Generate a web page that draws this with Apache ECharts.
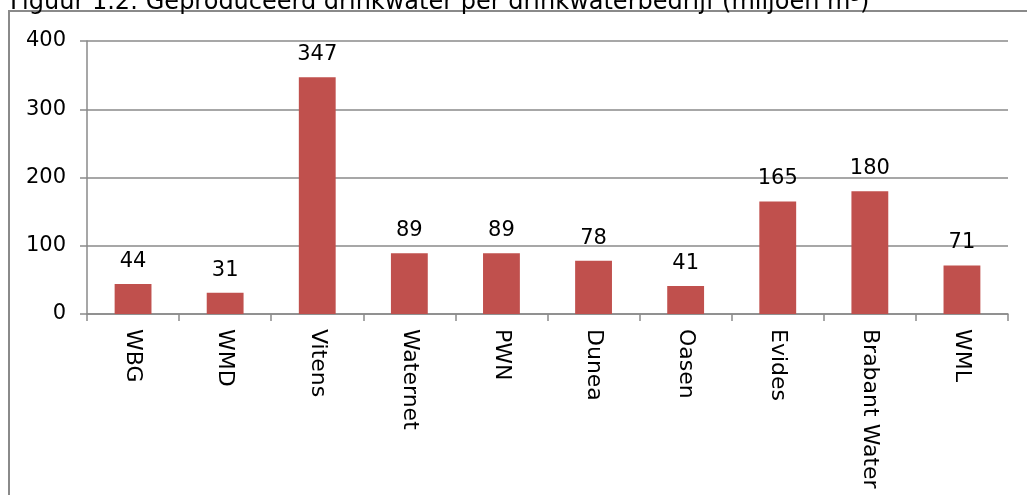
<!DOCTYPE html>
<html>
<head>
<meta charset="utf-8">
<script src="https://cdn.jsdelivr.net/npm/echarts@6/dist/echarts.min.js"></script>
<style>html,body{margin:0;padding:0;background:#fff;}#c{width:1027px;height:495px;}</style>
</head>
<body>
<div id="c"></div>
<script>
const titleText = 'Figuur 1.2: Geproduceerd drinkwater per drinkwaterbedrijf (miljoen m³)';
const categories = ['WBG', 'WMD', 'Vitens', 'Waternet', 'PWN', 'Dunea', 'Oasen', 'Evides', 'Brabant Water', 'WML'];
const values = [44, 31, 347, 89, 89, 78, 41, 165, 180, 71];
const yTicks = [0, 100, 200, 300, 400];

const chart = echarts.init(document.getElementById('c'), null, {renderer: 'canvas'});
const font = 'DejaVu Sans, Verdana, sans-serif';
chart.setOption({
  animation: false,
  backgroundColor: '#fff',
  graphic: [
    {type: 'rect', shape: {x: 9, y: 11, width: 1200, height: 700}, style: {fill: 'none', stroke: '#8a8a8a', lineWidth: 2}, z: -1},
    {type: 'text', x: 10, y: -9, style: {text: titleText, font: '24px ' + font, fill: '#000', verticalAlign: 'top'}}
  ],
  grid: {left: 87, right: 19, top: 41, bottom: 181},
  xAxis: {
    type: 'category',
    data: categories,
    axisLine: {lineStyle: {color: '#8a8a8a', width: 1.5}},
    axisTick: {show: true, length: 7, lineStyle: {color: '#8a8a8a', width: 1.5}},
    axisLabel: {rotate: -90, margin: 15, color: '#000', fontSize: 22, fontFamily: font, interval: 0}
  },
  yAxis: {
    type: 'value',
    min: yTicks[0],
    max: yTicks[yTicks.length - 1],
    interval: 100,
    axisLine: {show: true, lineStyle: {color: '#8a8a8a', width: 1.5}},
    axisTick: {show: true, length: 7, lineStyle: {color: '#8a8a8a', width: 1.5}},
    splitLine: {show: true, lineStyle: {color: '#8a8a8a', width: 1.5}},
    axisLabel: {margin: 21, color: '#000', fontSize: 21, fontFamily: font}
  },
  series: [{
    type: 'bar',
    data: values,
    barWidth: '40%',
    itemStyle: {color: '#C0504D'},
    label: {show: true, position: 'top', distance: 12, color: '#000', fontSize: 21, fontFamily: font}
  }]
});
</script>
</body>
</html>
